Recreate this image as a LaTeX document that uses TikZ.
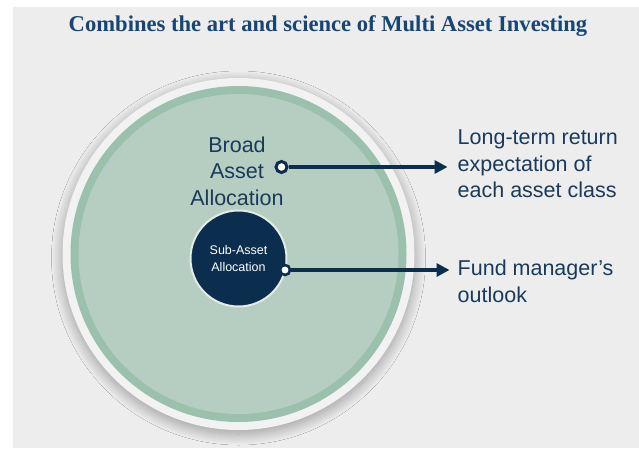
\documentclass[tikz,border=0pt]{standalone}
\usepackage{fontspec}
\setmainfont{Liberation Sans}
\newfontfamily\titlefont{Liberation Serif}
\usetikzlibrary{arrows.meta,shadows.blur}
\definecolor{panel}{HTML}{EDEDED}
\definecolor{navy}{HTML}{0B2E4F}
\definecolor{ink}{HTML}{1A3A5C}
\definecolor{titleblue}{HTML}{164677}
\definecolor{rimwhite}{HTML}{F2F2F2}
\definecolor{ringgreen}{HTML}{9BC0AC}
\definecolor{fillgreen}{HTML}{B6CEC1}
\definecolor{subrim}{HTML}{E4EAE7}
\begin{document}
\begin{tikzpicture}[x=1pt,y=-1pt,
  disc/.style={circle,inner sep=0pt,outer sep=0pt,draw=none},
  marker/.style={circle,inner sep=0pt,minimum size=11pt,draw=navy,line width=3pt,fill=white},
  label/.style={inner sep=0pt,text=ink,font=\fontsize{21.5}{26.5}\selectfont},
  link/.style={draw=navy,line width=4pt,-{Triangle[length=13pt,width=13pt]}}]
\useasboundingbox (0,0) rectangle (639,448);
% backdrop panel
\fill[panel] (13,7) rectangle (639,448);
% heading
\node[inner sep=0pt,text=titleblue,font=\titlefont\bfseries\fontsize{22.6}{26}\selectfont] (title) at (328,26) {Combines the art and science of Multi Asset Investing};
% nested allocation circles
\node[disc,minimum size=352pt,fill=rimwhite,
  blur shadow={shadow xshift=0pt,shadow yshift=-4pt,shadow blur radius=11pt,shadow blur steps=24,shadow opacity=35,shadow scale=1.0}] (rim) at (238.5,254) {};
\node[disc,minimum size=336pt,fill=ringgreen] (ring) at (rim.center) {};
\node[disc,minimum size=320pt,fill=fillgreen] (field) at (rim.center) {};
\node[disc,minimum size=96pt,fill=navy,draw=subrim,line width=2pt,text=white,align=center,
  font=\fontsize{12.5}{17}\selectfont] (sub) at (238.5,258.5) {Sub-Asset\\Allocation};
\node[label,align=center] (broad) at (237,171) {Broad\\Asset\\Allocation};
% connectors
\node[marker] (mk1) at (281.5,167) {};
\node[marker,minimum size=10pt,line width=2.6pt] (mk2) at (285,270) {};
\node[label,align=left,anchor=north west] (t1) at (457.5,130) {Long-term return\\expectation of\\each asset class};
\node[label,align=left,anchor=north west] (t2) at (457.5,260) {Fund manager’s\\outlook};
\draw[link,shorten >=10pt] (mk1.east) -- (mk1.east -| t1.west);
\draw[link,shorten >=8pt] (mk2.east) -- (mk2.east -| t2.west);
\end{tikzpicture}
\end{document}
